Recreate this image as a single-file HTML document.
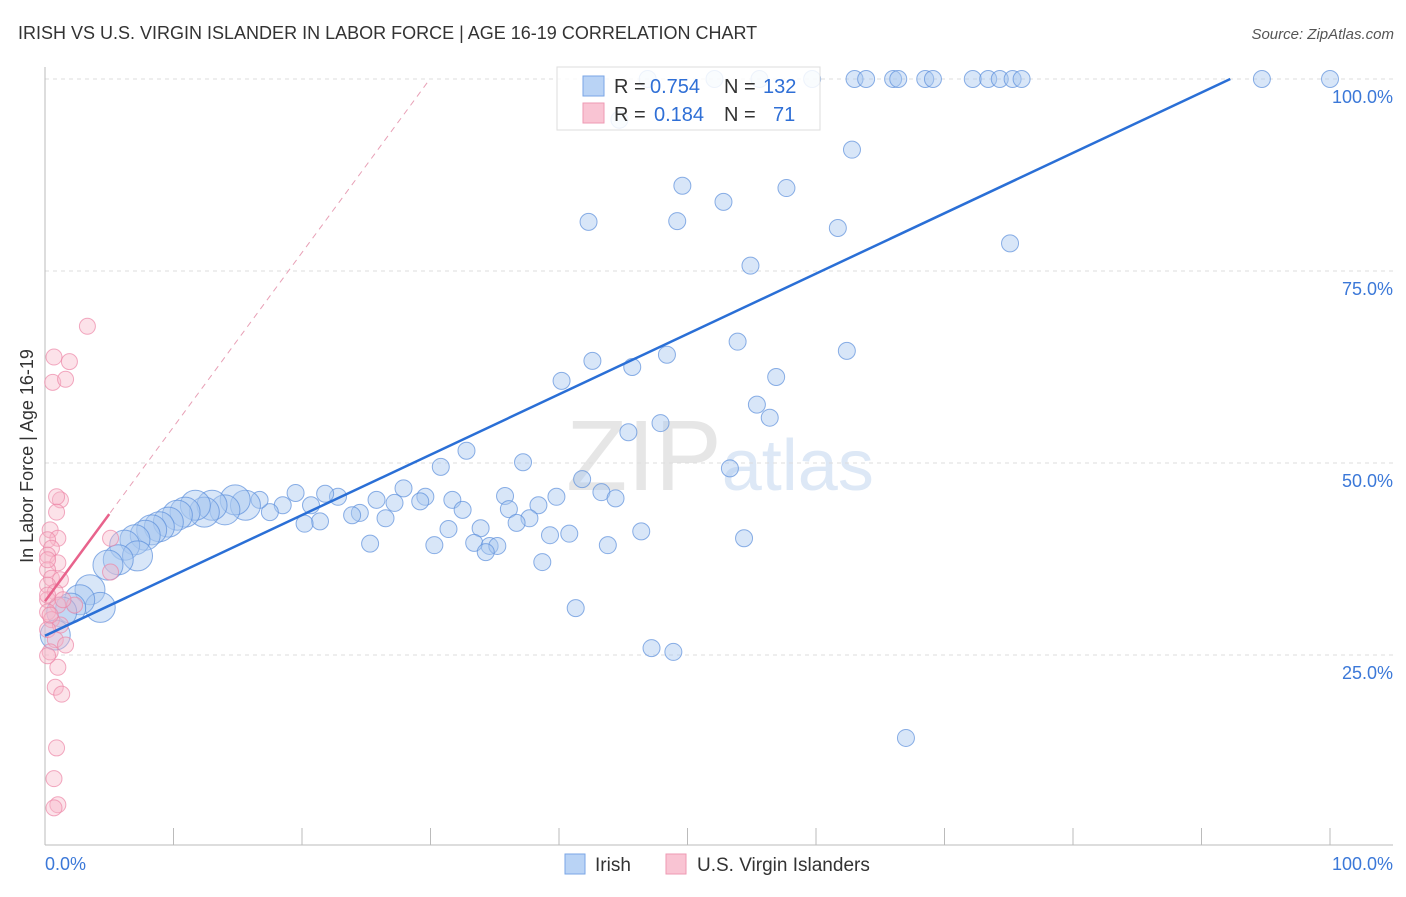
<!DOCTYPE html>
<html><head><meta charset="utf-8"><style>
body{margin:0;background:#fff;font-family:"Liberation Sans",sans-serif;}
svg text{font-family:"Liberation Sans",sans-serif;}
</style></head><body>
<svg id="chart" width="1406" height="892" viewBox="0 0 1406 892" xmlns="http://www.w3.org/2000/svg">
<text x="18" y="39" font-size="18" fill="#333">IRISH VS U.S. VIRGIN ISLANDER IN LABOR FORCE | AGE 16-19 CORRELATION CHART</text>
<text x="1394" y="39" font-size="15" fill="#555" text-anchor="end" font-style="italic">Source: ZipAtlas.com</text>
<text x="720" y="490" font-size="100" fill="#e6e6e6" text-anchor="middle" font-family="Liberation Serif,serif">ZIP<tspan fill="#dde8f6" font-family="Liberation Sans,sans-serif" font-size="72">atlas</tspan></text>
<g id="grid"></g>
<g id="axes"></g>
<g id="pts"></g>
<g id="lines"></g>
<text transform="translate(33,456) rotate(-90)" font-size="18" fill="#333" text-anchor="middle">In Labor Force | Age 16-19</text>
<g>
<rect x="557" y="67" width="263" height="63" fill="#fff" fill-opacity="0.85" stroke="#ddd"/>
<rect x="583" y="76" width="21" height="20" fill="#b9d3f5" stroke="#7aa6e6"/>
<rect x="583" y="103" width="21" height="20" fill="#f9c4d3" stroke="#ee9ab3"/>
<text x="614" y="93" font-size="20" fill="#333">R =</text>
<text x="650" y="93" font-size="20" fill="#2f6fd6">0.754</text>
<text x="724" y="93" font-size="20" fill="#333">N =</text>
<text x="763" y="93" font-size="20" fill="#2f6fd6">132</text>
<text x="614" y="121" font-size="20" fill="#333">R =</text>
<text x="654" y="121" font-size="20" fill="#2f6fd6">0.184</text>
<text x="724" y="121" font-size="20" fill="#333">N =</text>
<text x="773" y="121" font-size="20" fill="#2f6fd6">71</text>
</g>
<g>
<rect x="565" y="854" width="20" height="20" fill="#b9d3f5" stroke="#7aa6e6"/>
<text x="595" y="871" font-size="19" fill="#333">Irish</text>
<rect x="666" y="854" width="20" height="20" fill="#f9c4d3" stroke="#ee9ab3"/>
<text x="697" y="871" font-size="19" fill="#333">U.S. Virgin Islanders</text>
</g>
</svg>
<script>
const irishX=[46.9,52.1,55.6,59.7,63.0,63.9,66.0,66.4,68.5,69.1,72.2,73.4,74.3,75.3,76.0,94.7,100,44.7,62.8,49.6,57.7,52.8,42.3,49.2,61.7,75.1,54.9,53.9,62.4,42.6,48.4,45.7,40.2,56.9,55.4,56.4,47.9,45.4,32.8,37.2,30.8,53.3,41.8,43.3,44.4,39.8,35.8,31.7,29.6,38.4,36.1,32.5,37.7,36.7,33.9,31.4,29.2,27.9,27.2,26.5,25.8,24.5,23.9,22.8,21.8,20.7,21.4,20.2,19.5,18.5,17.5,16.7,39.3,40.8,46.4,25.3,30.3,33.4,34.6,35.2,34.3,43.8,54.4,38.7,41.3,47.2,48.9,67.0,15.6,14.8,14.0,13.0,12.4,11.7,10.9,10.3,9.6,8.9,8.3,7.8,7.0,6.2,7.2,5.7,4.9,3.5,4.3,2.7,2.0,1.3,0.8];
const irishY=[100,100,100,100,100,100,100,100,100,100,100,100,100,100,100,100,100,94.7,90.8,86.1,85.8,84.0,81.4,81.5,80.6,78.6,75.7,65.8,64.6,63.3,64.1,62.5,60.7,61.2,57.6,55.9,55.2,54.0,51.6,50.1,49.5,49.3,47.9,46.2,45.4,45.6,45.7,45.2,45.6,44.5,44.0,43.9,42.8,42.2,41.5,41.4,45.0,46.7,44.8,42.8,45.2,43.5,43.2,45.6,46.0,44.5,42.4,42.1,46.1,44.5,43.6,45.2,40.6,40.8,41.1,39.5,39.3,39.6,39.2,39.2,38.4,39.3,40.2,37.1,31.1,25.9,25.4,14.2,44.5,45.2,43.9,44.5,43.6,44.5,43.6,43.2,42.3,41.7,41.3,40.6,40.0,39.3,37.9,37.4,36.7,33.5,31.2,32.2,31.1,30.6,27.6];
const irishBig=[88,112];
const usviX=[3.3,0.7,1.9,0.6,1.6,1.2,0.9,0.9,0.4,1.0,0.2,0.5,5.1,0.2,1.0,0.2,0.5,1.2,0.2,0.8,0.2,1.0,0.2,0.5,1.2,0.2,0.8,1.6,0.4,1.0,0.8,1.3,0.9,0.7,1.0,0.7,5.1,2.3,0.2,0.2,0.2,0.4,1.4];
const usviY=[67.8,63.8,63.2,60.5,60.9,45.2,45.6,43.6,41.3,40.2,40.0,38.9,40.2,38.0,37.0,36.1,35.0,34.8,34.1,33.2,32.2,31.5,30.6,29.6,28.9,28.3,27.0,26.3,25.4,23.4,20.8,19.9,12.9,8.9,5.5,5.1,35.8,31.5,37.4,32.8,24.9,30.2,32.2];
const yTicks=[25,50,75,100];
const yTickLabels=["25.0%","50.0%","75.0%","100.0%"];
const xTicks=[0,10,20,30,40,50,60,70,80,90,100];
const blueFit=[27.5,0.786];
const pinkFit=[32,2.27];
const NS="http://www.w3.org/2000/svg";
const sx=v=>45+v*12.85, sy=v=>847-v*7.68;
function mk(p,t,a){const e=document.createElementNS(NS,t);for(const k in a)e.setAttribute(k,a[k]);p.appendChild(e);return e;}
const grid=document.getElementById('grid'),axes=document.getElementById('axes'),pts=document.getElementById('pts'),lines=document.getElementById('lines');
yTicks.forEach((v,i)=>{
 const l=mk(grid,'line',{x1:45,x2:1393,y1:sy(v),y2:sy(v),stroke:'#ddd','stroke-dasharray':'4,4'});
 
 
 const t=mk(axes,'text',{x:1393,y:sy(v)+24,'font-size':18,fill:'#3b78d8','text-anchor':'end'});
 t.textContent=yTickLabels[i];
 
 
});
mk(axes,'line',{x1:45,x2:45,y1:67,y2:845,stroke:'#bbb'});
mk(axes,'line',{x1:45,x2:1393,y1:845,y2:845,stroke:'#bbb'});
xTicks.forEach(v=>{const l=mk(axes,'line',{x1:sx(v),x2:sx(v),y1:828,y2:845,stroke:'#bbb'});
 
 });
[['0.0%',45,'start'],['100.0%',1393,'end']].forEach(a=>{const t=mk(axes,'text',{x:a[1],y:870,'font-size':18,fill:'#3b78d8','text-anchor':a[2]});t.textContent=a[0];
 
 });
irishX.forEach((x,i)=>{
 const big=i>=irishBig[0]&&i<=irishBig[1];
 const c=mk(pts,'circle',{cx:sx(x),cy:sy(irishY[i]),r:big?15:8.5,fill:'#a9c8f0','fill-opacity':0.45,stroke:'#5b8fdc','stroke-opacity':0.7});
 
 
});
usviX.forEach((x,i)=>{
 const c=mk(pts,'circle',{cx:sx(x),cy:sy(usviY[i]),r:8,fill:'#f7b6c9','fill-opacity':0.4,stroke:'#ec86a6','stroke-opacity':0.7});
 
 
});
const bx2=(100-blueFit[0])/blueFit[1];
const bl=mk(lines,'line',{x1:sx(0),y1:sy(blueFit[0]),x2:sx(bx2),y2:sy(100),stroke:'#2a6fd6','stroke-width':2.5});


const px2=(100-pinkFit[0])/pinkFit[1];
const pd=mk(lines,'line',{x1:sx(0),y1:sy(pinkFit[0]),x2:sx(px2),y2:sy(100),stroke:'#e8a0b6','stroke-width':1,'stroke-dasharray':'6,5'});


const pl=mk(lines,'line',{x1:sx(0),y1:sy(pinkFit[0]),x2:sx(5),y2:sy(pinkFit[0]+5*pinkFit[1]),stroke:'#e8638c','stroke-width':2.5});


</script>
</body></html>
